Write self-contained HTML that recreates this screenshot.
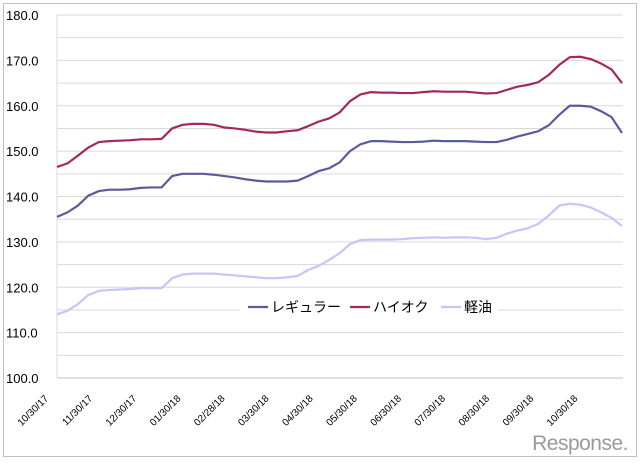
<!DOCTYPE html>
<html><head><meta charset="utf-8"><style>
body{margin:0;background:#fff;width:640px;height:461px;overflow:hidden}
text{font-family:"Liberation Sans","Noto Sans CJK JP",sans-serif}
</style></head><body>
<svg id="chart" width="640" height="461" xmlns="http://www.w3.org/2000/svg">
<rect x="3.5" y="3.5" width="633" height="453" fill="#fff" stroke="#bfbfbf"/>
<g id="grid"></g><g id="yaxis"></g><g id="xaxis"></g><g id="series"></g>
<g>
<rect x="240" y="300" width="258" height="18" fill="#fff"/>
<line x1="248" y1="307" x2="268" y2="307" stroke="#5b5b9b" stroke-width="2.2"/>
<text x="271" y="312" font-size="14">レギュラー</text>
<line x1="350" y1="307" x2="370" y2="307" stroke="#a3285e" stroke-width="2.2"/>
<text x="373" y="312" font-size="14">ハイオク</text>
<line x1="441" y1="307" x2="461" y2="307" stroke="#c5c5fa" stroke-width="2.2"/>
<text x="464" y="312" font-size="14">軽油</text>
</g>
<text x="628" y="450" text-anchor="end" font-size="21" fill="#9a9a9a" letter-spacing="-0.5">Response.</text>
</svg>
<script>
const tickValues=[100,110,120,130,140,150,160,170,180];
const xLabels=["10/30/17","11/30/17","12/30/17","01/30/18","02/28/18","03/30/18","04/30/18","05/30/18","06/30/18","07/30/18","08/30/18","09/30/18","10/30/18"];
const regular=[135.5,136.5,138,140.2,141.2,141.5,141.5,141.6,141.9,142,142,144.5,145,145,145,144.8,144.5,144.2,143.8,143.5,143.3,143.3,143.3,143.5,144.5,145.6,146.2,147.5,150,151.5,152.2,152.2,152.1,152,152,152.1,152.3,152.2,152.2,152.2,152.1,152,152,152.5,153.2,153.8,154.4,155.7,158,160,160,159.8,158.8,157.5,154];
const highOctane=[146.5,147.3,149,150.8,152,152.2,152.3,152.4,152.6,152.6,152.7,155,155.8,156,156,155.8,155.2,155,154.7,154.3,154.1,154.1,154.4,154.6,155.5,156.5,157.2,158.5,161,162.5,163,162.9,162.9,162.8,162.8,163,163.2,163.1,163.1,163.1,162.9,162.7,162.8,163.5,164.2,164.6,165.2,166.8,169,170.7,170.8,170.3,169.3,168,165];
const diesel=[114,114.8,116.3,118.3,119.2,119.4,119.5,119.6,119.8,119.8,119.8,122,122.8,123,123,123,122.8,122.6,122.4,122.2,122,122,122.2,122.5,123.8,124.7,126,127.5,129.5,130.4,130.5,130.5,130.5,130.6,130.8,130.9,131,130.9,131,131,130.9,130.6,130.9,131.8,132.5,133,134,135.8,138,138.4,138.2,137.6,136.5,135.3,133.5];
const NS="http://www.w3.org/2000/svg";
const L=57,R=622,T=15,B=378,yMin=100,yMax=180;
const y=v=>B-(v-yMin)/(yMax-yMin)*(B-T);
const x=i=>L+i*(R-L)/(regular.length-1);
function mk(tag,attrs,parent){const e=document.createElementNS(NS,tag);for(const k in attrs)e.setAttribute(k,attrs[k]);document.getElementById(parent).appendChild(e);return e;}
for(let v=yMin+5;v<=yMax;v+=5){
 const g=mk('line',{x1:L,x2:R+1,y1:y(v),y2:y(v),stroke:'#d9d9d9','stroke-width':1},'grid');
 
 
}
const ax=mk('line',{x1:L,x2:L,y1:T,y2:B,stroke:'#d9d9d9'},'grid');


const bx=mk('line',{x1:L,x2:R+1,y1:B,y2:B,stroke:'#bfbfbf'},'grid');


tickValues.forEach(v=>{
 const t=mk('text',{x:6,y:y(v)+5,'font-size':13,fill:'#000'},'yaxis');
 t.textContent=v.toFixed(1);
 
 
});
xLabels.forEach((s,i)=>{
 const px=49+i*44.1,py=399;
 const t=mk('text',{x:px,y:py,'font-size':10,'text-anchor':'end',transform:`rotate(-45 ${px} ${py})`},'xaxis');
 t.textContent=s;
 
 
});
[[diesel,'#c5c5fa','series-diesel'],[regular,'#5b5b9b','series-regular'],[highOctane,'#a3285e','series-highoctane']].forEach(([d,c,n])=>{
 const p=mk('polyline',{points:d.map((v,i)=>x(i)+','+y(v)).join(' '),fill:'none',stroke:c,'stroke-width':2.2,'stroke-linejoin':'round'},'series');
 
 
});
</script>
</body></html>
